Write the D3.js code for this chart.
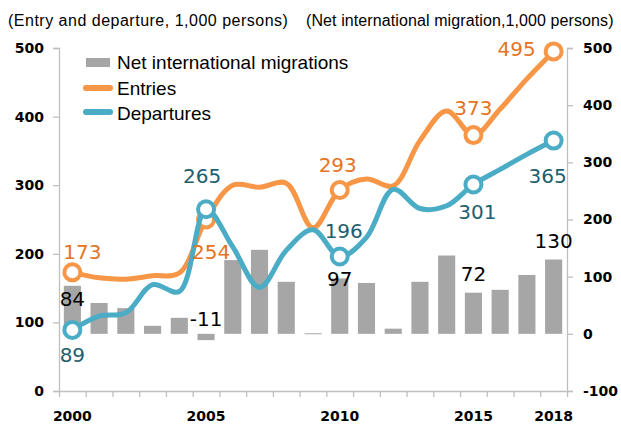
<!DOCTYPE html>
<html>
<head>
<meta charset="utf-8">
<script src="https://cdn.jsdelivr.net/npm/d3@7"></script>
<style>
  body { margin: 0; background: #fff; }
  svg { display: block; }
</style>
</head>
<body>
<div class="graphContainer"></div>
<script>
// width / height of the picture
const w = 621;
const h = 428;

// data, 1,000 persons
const years = d3.range(2000, 2019);
const netMigration = [84, 54, 45, 14, 28, -11, 129, 147, 91, 1, 97, 89, 9, 91, 137, 72, 77, 103, 130];
const entries = [173, 165, 163, 168, 172, 250, 300, 297, 303, 238, 293, 309, 299, 365, 408, 373, 411, 455, 495];
const departures = [89, 109, 114, 155, 145, 265, 210, 151, 205, 235, 196, 224, 294, 266, 270, 301, 323, 345, 365];

const markerYears = [2000, 2005, 2010, 2015, 2018];
const leftTicks = [0, 100, 200, 300, 400, 500];
const rightTicks = [-100, 0, 100, 200, 300, 400, 500];
const xLabels = [2000, 2005, 2010, 2015, 2018];

// labels shown on the chart: [year, text, dx, dy]
const entryLabels = [[2000, "173", 10, -13], [2005, "254", 5, 39], [2010, "293", -2, -18], [2015, "373", 0, -20], [2018, "495", -37, 5]];
const departLabels = [[2000, "89", 0, 32], [2005, "265", -4, -26], [2010, "196", 4, -19], [2015, "301", 4, 34], [2018, "365", -6, 42]];
const netLabels = [[2000, "84", 0, 20], [2005, "-11", 0, -14], [2010, "97", 0, 8], [2015, "72", 0, -12], [2018, "130", 0, -12]];

const orange = "#F79646";
const orangeText = "#E5741E";
const blue = "#4BACC6";
const blueText = "#215E6E";
const gray = "#A6A6A6";
const axisColor = "#BFBFBF";

const svg = d3.select(".graphContainer").append("svg")
  .attr("width", w)
  .attr("height", h);

// scales
const x = d3.scaleBand()
  .domain(years)
  .range([59, 567])
  .paddingInner(0.36)
  .paddingOuter(0.18);
const cx = (yr) => x(yr) + x.bandwidth() / 2;

const yLeft = d3.scaleLinear().domain([0, 500]).range([391, 48]);
const yRight = d3.scaleLinear().domain([-100, 500]).range([391, 48]);

// titles
svg.append("text")
  .attr("x", 8).attr("y", 26)
  .attr("font-family", "Liberation Sans, Arial, sans-serif")
  .attr("font-size", 16)
  .attr("letter-spacing", 0.5)
  .text("(Entry and departure, 1,000 persons)");
svg.append("text")
  .attr("x", 306).attr("y", 26)
  .attr("font-family", "Liberation Sans, Arial, sans-serif")
  .attr("font-size", 16)
  .attr("letter-spacing", 0.1)
  .text("(Net international migration,1,000 persons)");

// axes
const leftAxis = d3.axisLeft(yLeft).tickValues(leftTicks).tickSize(6).tickPadding(8);
const rightAxis = d3.axisRight(yRight).tickValues(rightTicks).tickSize(6).tickPadding(10)
  .tickFormat(d => String(d));
const bottomAxis = d3.axisBottom(d3.scaleLinear().domain([0, years.length]).range([59, 567]))
  .tickValues(d3.range(0, years.length + 1)).tickSize(6).tickFormat("");

function styleAxis(g) {
  g.select(".domain").attr("stroke", axisColor).attr("stroke-width", 1.3);
  g.selectAll(".tick line").attr("stroke", axisColor).attr("stroke-width", 1.3);
  g.selectAll(".tick text")
    .attr("font-family", "DejaVu Sans, sans-serif")
    .attr("font-weight", "bold")
    .attr("font-size", 14)
    .attr("fill", "#000");
}

svg.append("g").attr("transform", "translate(59,0)").call(leftAxis).call(styleAxis)
  .call(g => g.selectAll(".tick text").attr("x", -15));
svg.append("g").attr("transform", "translate(567,0)").call(rightAxis).call(styleAxis);
svg.append("g").attr("transform", "translate(0,391)").call(bottomAxis).call(styleAxis)
  .call(g => g.select(".domain").attr("d", "M59,0.5H567.5"));

// year labels under the axis
svg.selectAll(".yearLabel")
  .data(xLabels)
  .enter()
  .append("text")
  .attr("class", "yearLabel")
  .attr("x", d => cx(d))
  .attr("y", 421)
  .attr("text-anchor", "middle")
  .attr("font-family", "DejaVu Sans, sans-serif")
  .attr("font-weight", "bold")
  .attr("font-size", 14)
  .text(d => d);

// bars for net migration
svg.selectAll(".bar")
  .data(years)
  .enter()
  .append("rect")
  .attr("class", "bar")
  .attr("x", d => x(d))
  .attr("width", x.bandwidth())
  .attr("y", (d, i) => Math.min(yRight(netMigration[i]), yRight(0)))
  .attr("height", (d, i) => Math.max(1, Math.abs(yRight(netMigration[i]) - yRight(0))))
  .attr("fill", gray);

// lines
const line = d3.line()
  .x(d => cx(d[0]))
  .y(d => yLeft(d[1]))
  .curve(d3.curveCatmullRom.alpha(0.5));

function drawSeries(values, color) {
  const pts = years.map((yr, i) => [yr, values[i]]);
  svg.append("path")
    .datum(pts)
    .attr("d", line)
    .attr("fill", "none")
    .attr("stroke", color)
    .attr("stroke-width", 5)
    .attr("stroke-linejoin", "round");
  svg.selectAll(null)
    .data(pts.filter(p => markerYears.includes(p[0])))
    .enter()
    .append("circle")
    .attr("cx", d => cx(d[0]))
    .attr("cy", d => yLeft(d[1]))
    .attr("r", 8)
    .attr("fill", "#fff")
    .attr("stroke", color)
    .attr("stroke-width", 4);
}
drawSeries(entries, orange);
drawSeries(departures, blue);

// data labels
function drawLabels(list, yOf, color) {
  svg.selectAll(null)
    .data(list)
    .enter()
    .append("text")
    .attr("x", d => cx(d[0]) + d[2])
    .attr("y", d => yOf(d[0]) + d[3])
    .attr("text-anchor", "middle")
    .attr("font-family", "DejaVu Sans, sans-serif")
    .attr("font-size", 20)
    .attr("fill", color)
    .text(d => d[1]);
}
drawLabels(entryLabels, yr => yLeft(entries[years.indexOf(yr)]), orangeText);
drawLabels(departLabels, yr => yLeft(departures[years.indexOf(yr)]), blueText);
drawLabels(netLabels, yr => yRight(netMigration[years.indexOf(yr)]), "#000");

// legend
const legend = svg.append("g").attr("font-family", "Liberation Sans, Arial, sans-serif").attr("font-size", 19);
legend.append("rect").attr("x", 86).attr("y", 58).attr("width", 24).attr("height", 9).attr("fill", gray);
legend.append("text").attr("x", 117).attr("y", 69).text("Net international migrations");
legend.append("line").attr("x1", 86).attr("x2", 110).attr("y1", 88).attr("y2", 88)
  .attr("stroke", orange).attr("stroke-width", 6).attr("stroke-linecap", "round");
legend.append("text").attr("x", 117).attr("y", 95).text("Entries");
legend.append("line").attr("x1", 86).attr("x2", 110).attr("y1", 112).attr("y2", 112)
  .attr("stroke", blue).attr("stroke-width", 6).attr("stroke-linecap", "round");
legend.append("text").attr("x", 117).attr("y", 120).text("Departures");
</script>
</body>
</html>
